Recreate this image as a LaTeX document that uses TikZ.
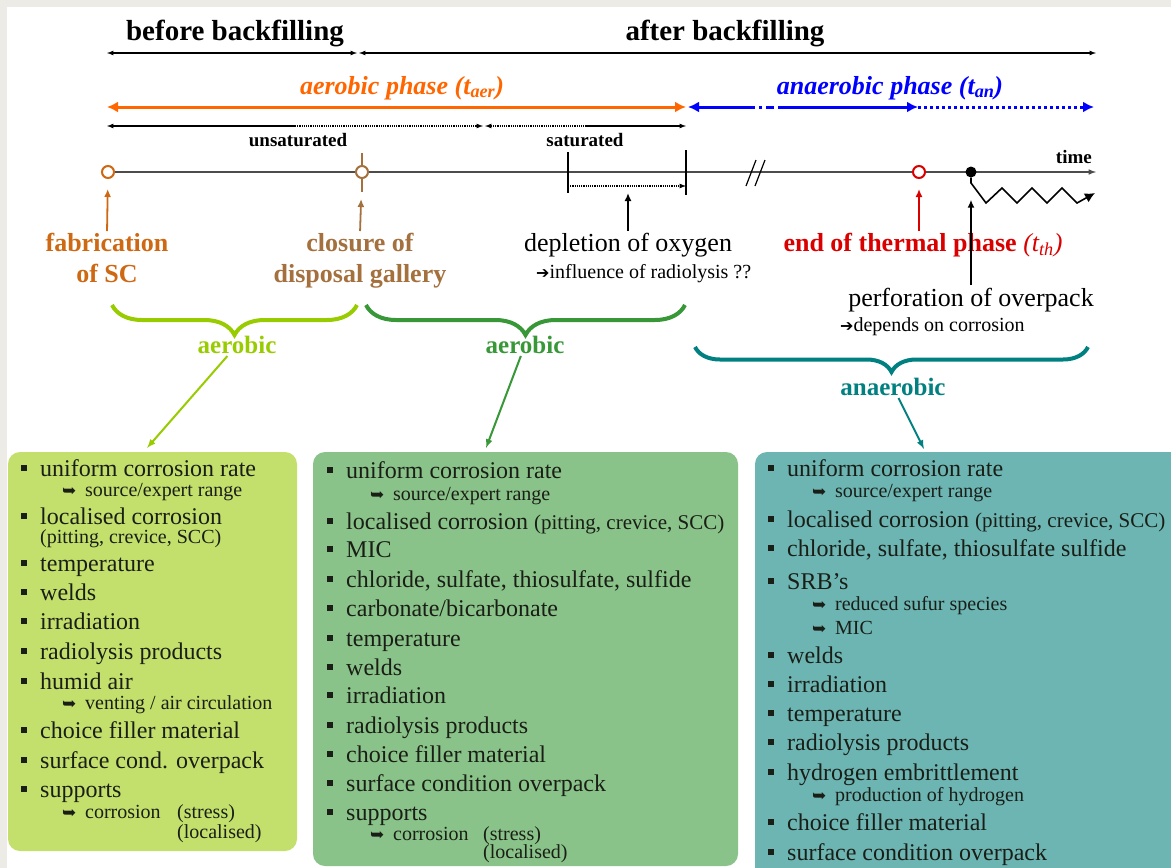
\documentclass[tikz,border=0pt]{standalone}
\usepackage{xcolor}
\usepackage{fontspec}
\setmainfont{Liberation Serif}
\newfontfamily\dejavu{DejaVu Sans}
\usepackage{tikz}
\usetikzlibrary{arrows}
\usetikzlibrary{arrows.meta}
\usetikzlibrary{decorations.pathreplacing}
\tikzset{>=latex}

\definecolor{frame}{RGB}{236,235,230}
\definecolor{aerorange}{RGB}{255,102,0}
\definecolor{fabcol}{RGB}{206,104,18}
\definecolor{closcol}{RGB}{164,112,62}
\definecolor{thermred}{RGB}{218,0,0}
\definecolor{lgreen}{RGB}{153,204,0}
\definecolor{dgreen}{RGB}{56,152,56}
\definecolor{tealc}{RGB}{0,128,128}
\definecolor{boxA}{RGB}{196,224,108}
\definecolor{boxB}{RGB}{138,195,137}
\definecolor{boxC}{RGB}{108,181,179}
\definecolor{itemtxt}{RGB}{26,30,22}

\newcommand{\fsz}[1]{\fontsize{#1}{#1}\selectfont}
\newcommand{\bul}{\makebox[19pt][l]{\rule[5pt]{6pt}{6pt}}}
\newcommand{\subarr}{\makebox[23pt][l]{{\dejavu\fsz{17}➥}}}
\newcommand{\harr}{{\dejavu\fsz{16}➔}}

\tikzstyle{hd} = [inner sep=0pt, font=\bfseries\fsz{29}]
\tikzstyle{phs} = [inner sep=0pt, font=\bfseries\itshape\fsz{26}]
\tikzstyle{lbl} = [inner sep=0pt, font=\bfseries\fsz{19}]
\tikzstyle{evt} = [inner sep=0pt, anchor=north, align=center, font=\fontsize{26}{31}\selectfont]
\tikzstyle{evtb} = [evt, font=\bfseries\fontsize{26}{31}\selectfont]
\tikzstyle{note} = [inner sep=0pt, anchor=base west, font=\fsz{20}]
\tikzstyle{zone} = [inner sep=2pt, font=\bfseries\fsz{25}]
\tikzstyle{mi} = [inner sep=0pt, anchor=base west, text=itemtxt, font=\fsz{24}]
\tikzstyle{si} = [inner sep=0pt, anchor=base west, text=itemtxt, font=\fsz{20}]
\tikzstyle{brc} = [decorate, decoration={brace, mirror, amplitude=30pt}, line width=4pt]
\tikzstyle{evmark} = [circle, inner sep=0pt, minimum size=12pt, line width=2pt, fill=white]
\tikzstyle{evarr} = [-{Latex[length=8pt,width=7pt]}, line width=1.8pt]

\begin{document}
\begin{tikzpicture}[x=1pt, y=-1pt]
 \useasboundingbox (0,0) rectangle (1171,868);
 \clip (0,0) rectangle (1171,868);
 \fill [frame] (0,0) rectangle (1171,868);
 \fill [white] (7,7) rectangle (1171,868);

 % backfilling
 \node [hd] (bef) at (235,33) {before backfilling};
 \node [hd] (aft) at (725,33) {after backfilling};
 \draw [latex-latex, line width=1.2pt] (107,53) -- (357,53);
 \draw [latex-latex, line width=1.2pt] (359,53) -- (1096,53);

 % phases
 \node [phs, text=aerorange] (aerph) at (402,88) {aerobic phase (t\textsubscript{aer})};
 \node [phs, text=blue] (anph) at (890,88) {anaerobic phase (t\textsubscript{an})};
 \draw [aerorange, line width=3pt, {Latex[length=11pt,width=11pt]}-{Latex[length=11pt,width=11pt]}] (107,107) -- (686,107);
 \draw [blue, line width=3pt, {Latex[length=11pt,width=11pt]}-] (688,107) -- (747,107);
 \draw [blue, line width=3pt, dash pattern=on 8pt off 4pt on 3pt off 4pt] (747,107) -- (780,107);
 \draw [blue, line width=3pt, -{Latex[length=11pt,width=11pt]}] (780,107) -- (918,107);
 \draw [blue, line width=3pt, dash pattern=on 3pt off 3pt, -{Latex[length=11pt,width=11pt]}] (918,107) -- (1094,107);

 % saturation
 \draw [latex-, line width=1.2pt] (107,126) -- (295,126);
 \draw [-latex, line width=1.2pt, densely dotted] (295,126) -- (483,126);
 \draw [latex-, line width=1.2pt, densely dotted] (485,126) -- (587,126);
 \draw [-latex, line width=1.2pt] (587,126) -- (686,126);
 \node [lbl] (unsat) at (298,140) {unsaturated};
 \node [lbl] (sat) at (585,140) {saturated};

 % time axis
 \draw [-latex, line width=1.5pt, black!70] (107,172) -- (1096,172);
 \node [lbl, anchor=base east] (tm) at (1092,163) {time};
 \draw [closcol, line width=2pt] (362,153) -- (362,192);
 \draw [line width=1.5pt] (568,152) -- (568,193);
 \draw [line width=1.5pt] (686,150) -- (686,195);
 \draw [-latex, line width=1.2pt, densely dotted] (568,186) -- (686,186);
 \draw [line width=1.2pt] (746,186) -- (756,160);
 \draw [line width=1.2pt] (755,186) -- (765,160);
 \node [evmark, draw=fabcol] (c0) at (108,172) {};
 \node [evmark, draw=closcol] (c1) at (362,172) {};
 \node [evmark, draw=thermred] (c2) at (919,172) {};
 \node [circle, fill=black, inner sep=0pt, minimum size=11pt] (dot) at (971,172) {};
 \coordinate (satm) at (628,186);
 \draw [-{Latex[length=10pt,width=10pt]}, line width=1.6pt] (dot) -- (971,183) -- (986,203) -- (1002,188) -- (1017,203)
   -- (1032,188) -- (1047,203) -- (1062,188) -- (1077,203) -- (1095,193);

 % events
 \node [evtb, text=fabcol] (fab) at (107,233) {fabrication\\of SC};
 \node [evtb, text=closcol] (clo) at (360,233) {closure of\\disposal gallery};
 \node [evt] (dep) at (628,233) {depletion of oxygen};
 \node [note] (inf) at (536,278) {\harr influence of radiolysis ??};
 \node [evt, text=thermred] (thr) at (923,233) {{\bfseries end of thermal phase} {\itshape(t\textsubscript{th})}};
 \node [evt] (perf) at (971,288) {perforation of overpack};
 \node [note] (dpc) at (840,331) {\harr depends on corrosion};
 \draw [evarr, fabcol, shorten <=2pt, shorten >=10pt] (fab.north) -- (c0);
 \draw [evarr, closcol, shorten <=2pt, shorten >=20pt] (clo.north) -- (c1);
 \draw [evarr, shorten <=2pt, shorten >=7pt] (dep.north) -- (satm);
 \draw [evarr, thermred, shorten <=2pt, shorten >=10pt] (c2 |- thr.north) -- (c2);
 \draw [evarr, shorten <=3pt, shorten >=22pt] (dot |- perf.north) -- (dot);

 % braces
 \draw [brc, lgreen] (112,305) -- (357,305);
 \draw [brc, dgreen] (366,305) -- (685,305);
 \draw [brc, tealc, decoration={brace, mirror, amplitude=25pt}] (695,347) -- (1088,347);
 \node [zone, text=lgreen] (aer1) at (237,345) {aerobic};
 \node [zone, text=dgreen] (aer2) at (525,345) {aerobic};
 \node [zone, text=tealc] (anaer) at (893,387) {anaerobic};

 % boxes
 \fill [boxA, rounded corners=12pt] (8,452) rectangle (297,851);
 \fill [boxB, rounded corners=12pt] (313,452) rectangle (738,866);
 \fill [boxC, rounded corners=12pt] (755,452) rectangle (1190,890);
 \coordinate (b1t) at (147,448);
 \coordinate (b2t) at (486,448);
 \coordinate (b3t) at (924,449);
 \draw [-latex, lgreen, line width=2pt] (aer1) -- (b1t);
 \draw [-latex, dgreen, line width=2pt] (aer2) -- (b2t);
 \draw [-latex, tealc, line width=2pt] (anaer) -- (b3t);

 % aerobic, before backfilling
 \node [mi] (a1) at (21,476) {\bul uniform corrosion rate};
 \node [si] (a2) at (62,496) {\subarr source/expert range};
 \node [mi] (a3) at (21,524) {\bul localised corrosion};
 \node [si] (a4) at (40,543) {(pitting, crevice, SCC)};
 \node [mi] (a5) at (21,571) {\bul temperature};
 \node [mi] (a6) at (21,600) {\bul welds};
 \node [mi] (a7) at (21,629) {\bul irradiation};
 \node [mi] (a8) at (21,659) {\bul radiolysis products};
 \node [mi] (a9) at (21,689) {\bul humid air};
 \node [si] (a10) at (62,709) {\subarr venting / air circulation};
 \node [mi] (a11) at (21,738) {\bul choice filler material};
 \node [mi] (a12) at (21,768) {\bul surface cond. overpack};
 \node [mi] (a13) at (21,797) {\bul supports};
 \node [si] (a14) at (62,818) {\subarr corrosion};
 \node [si] (a15) at (177,818) {(stress)};
 \node [si] (a16) at (177,838) {(localised)};

 % aerobic, after backfilling
 \node [mi] (b1) at (327,478) {\bul uniform corrosion rate};
 \node [si] (b2) at (370,500) {\subarr source/expert range};
 \node [mi] (b3) at (327,529) {\bul localised corrosion {\fsz{21}(pitting, crevice, SCC)}};
 \node [mi] (b4) at (327,557) {\bul MIC};
 \node [mi] (b5) at (327,587) {\bul chloride, sulfate, thiosulfate, sulfide};
 \node [mi] (b6) at (327,616) {\bul carbonate/bicarbonate};
 \node [mi] (b7) at (327,646) {\bul temperature};
 \node [mi] (b8) at (327,675) {\bul welds};
 \node [mi] (b9) at (327,703) {\bul irradiation};
 \node [mi] (b10) at (327,733) {\bul radiolysis products};
 \node [mi] (b11) at (327,762) {\bul choice filler material};
 \node [mi] (b12) at (327,791) {\bul surface condition overpack};
 \node [mi] (b13) at (327,820) {\bul supports};
 \node [si] (b14) at (370,840) {\subarr corrosion};
 \node [si] (b15) at (483,840) {(stress)};
 \node [si] (b16) at (483,858) {(localised)};

 % anaerobic
 \node [mi] (c1l) at (768,476) {\bul uniform corrosion rate};
 \node [si] (c2l) at (812,497) {\subarr source/expert range};
 \node [mi] (c3l) at (768,527) {\bul localised corrosion {\fsz{21}(pitting, crevice, SCC)}};
 \node [mi] (c4l) at (768,556) {\bul chloride, sulfate, thiosulfate sulfide};
 \node [mi] (c5l) at (768,589) {\bul SRB’s};
 \node [si] (c6l) at (812,610) {\subarr reduced sufur species};
 \node [si] (c7l) at (812,634) {\subarr MIC};
 \node [mi] (c8l) at (768,663) {\bul welds};
 \node [mi] (c9l) at (768,692) {\bul irradiation};
 \node [mi] (c10l) at (768,721) {\bul temperature};
 \node [mi] (c11l) at (768,750) {\bul radiolysis products};
 \node [mi] (c12l) at (768,780) {\bul hydrogen embrittlement};
 \node [si] (c13l) at (812,801) {\subarr production of hydrogen};
 \node [mi] (c14l) at (768,830) {\bul choice filler material};
 \node [mi] (c15l) at (768,860) {\bul surface condition overpack};
\end{tikzpicture}
\end{document}
